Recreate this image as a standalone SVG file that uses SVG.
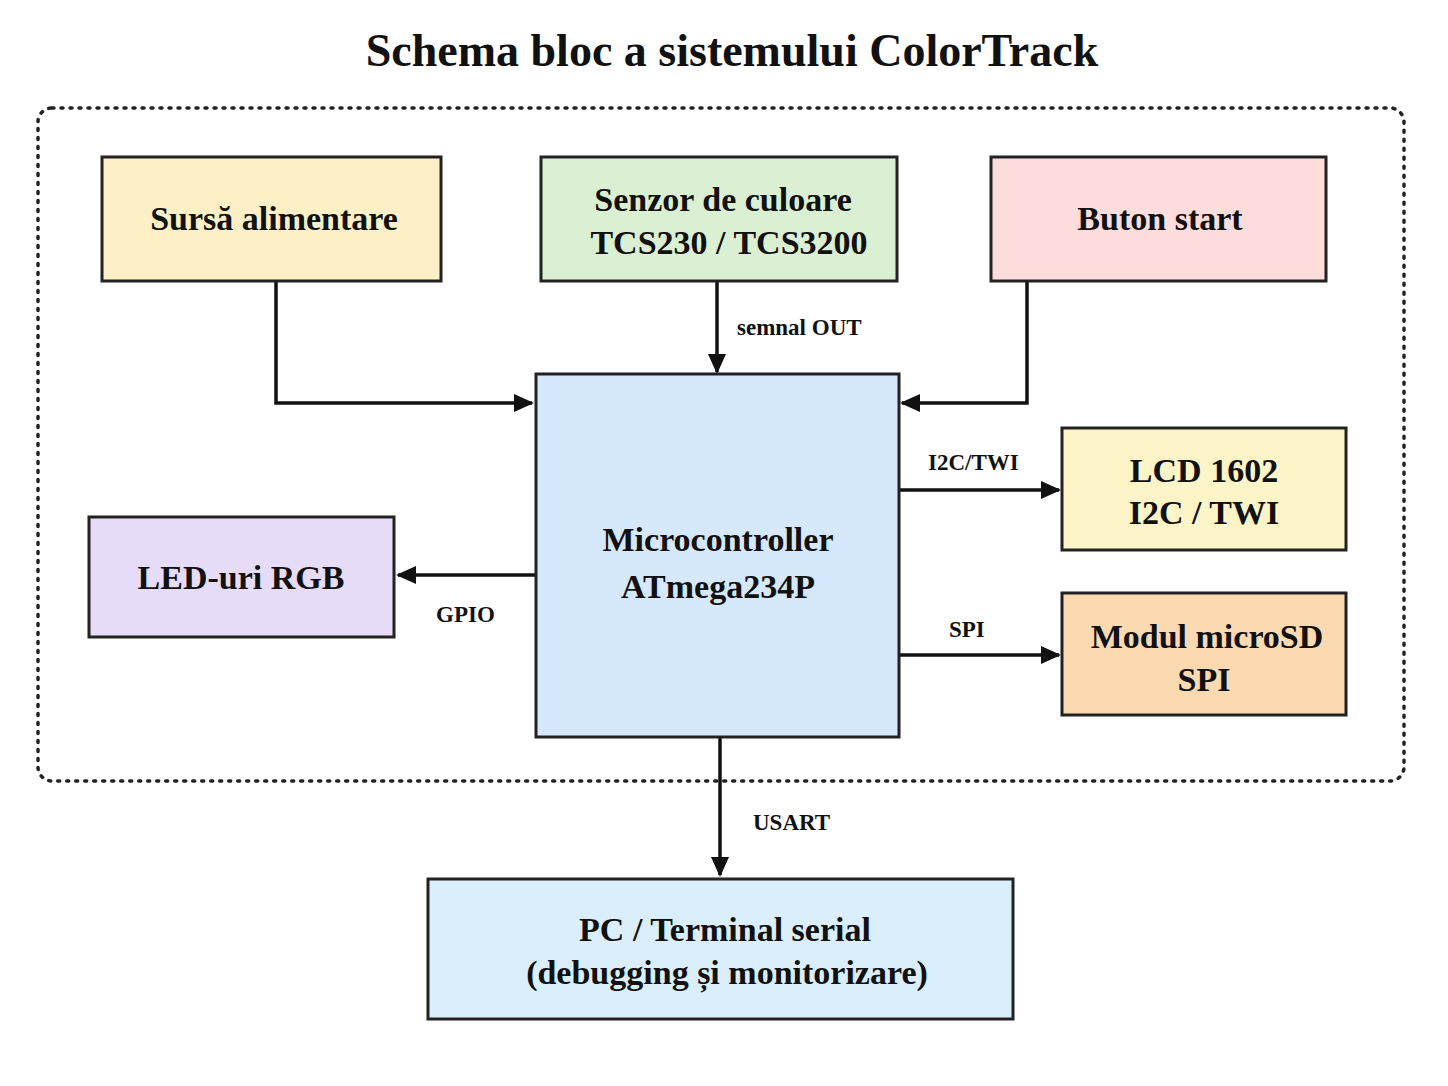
<svg xmlns="http://www.w3.org/2000/svg" width="1448" height="1086" viewBox="0 0 1448 1086">
<style>
text{font-family:"Liberation Serif","Times New Roman",serif;font-weight:bold;fill:#111;text-anchor:middle}
.n{stroke:#222;stroke-width:3}
.t{font-size:34px}
.l{font-size:23px;text-anchor:start}
.c{fill:none;stroke:#111;stroke-width:3.5;marker-end:url(#a)}
</style>
<defs><marker id="a" markerWidth="20" markerHeight="20" refX="18" refY="10" orient="auto" markerUnits="userSpaceOnUse" viewBox="0 0 20 20"><path d="M0,1 L20,10 L0,19 z" fill="#111"/></marker>
</defs>
<rect width="1448" height="1086" fill="#fff"/>
<text x="732" y="66" font-size="46">Schema bloc a sistemului ColorTrack</text>
<rect x="38" y="108" width="1366" height="673" rx="14" fill="none" stroke="#222" stroke-width="3.5" stroke-dasharray="2 7" stroke-linecap="round"/>
<g id="connectors">
<path class="c" d="M276,281 V403 H532"/>
<path class="c" d="M717,281 V372"/>
<path class="c" d="M1027,281 V403 H902"/>
<path class="c" d="M899,490 H1059"/>
<path class="c" d="M899,655 H1059"/>
<path class="c" d="M536,575 H398"/>
<path class="c" d="M720,737 V875"/>
<text class="l" x="737" y="335">semnal OUT</text>
<text class="l" x="928" y="470">I2C/TWI</text>
<text class="l" x="949" y="637">SPI</text>
<text class="l" x="436" y="622">GPIO</text>
<text class="l" x="753" y="830">USART</text>
</g>
<g id="sursa"><rect class="n" x="102" y="157" width="339" height="124" fill="#fdf0c6"/><text class="t" x="274" y="230">Sursă alimentare</text></g>
<g id="senzor"><rect class="n" x="541" y="157" width="356" height="124" fill="#dbf0d3"/><text class="t" x="723" y="211">Senzor de culoare</text><text class="t" x="729" y="254">TCS230 / TCS3200</text></g>
<g id="buton"><rect class="n" x="991" y="157" width="335" height="124" fill="#fddcdc"/><text class="t" x="1160" y="230">Buton start</text></g>
<g id="mcu"><rect class="n" x="536" y="374" width="363" height="363" fill="#d6e8fb"/><text class="t" x="718" y="551">Microcontroller</text><text class="t" x="718" y="598">ATmega234P</text></g>
<g id="lcd"><rect class="n" x="1062" y="428" width="284" height="122" fill="#fdf5c8"/><text class="t" x="1204" y="482">LCD 1602</text><text class="t" x="1204" y="524">I2C / TWI</text></g>
<g id="sd"><rect class="n" x="1062" y="593" width="284" height="122" fill="#fbdab2"/><text class="t" x="1207" y="648">Modul microSD</text><text class="t" x="1204" y="691">SPI</text></g>
<g id="led"><rect class="n" x="89" y="517" width="305" height="120" fill="#e6dcf7"/><text class="t" x="241" y="589">LED-uri RGB</text></g>
<g id="pc"><rect class="n" x="428" y="879" width="585" height="140" fill="#dbeefc"/><text class="t" x="725" y="941">PC / Terminal serial</text><text class="t" x="727" y="984">(debugging și monitorizare)</text></g>
</svg>
